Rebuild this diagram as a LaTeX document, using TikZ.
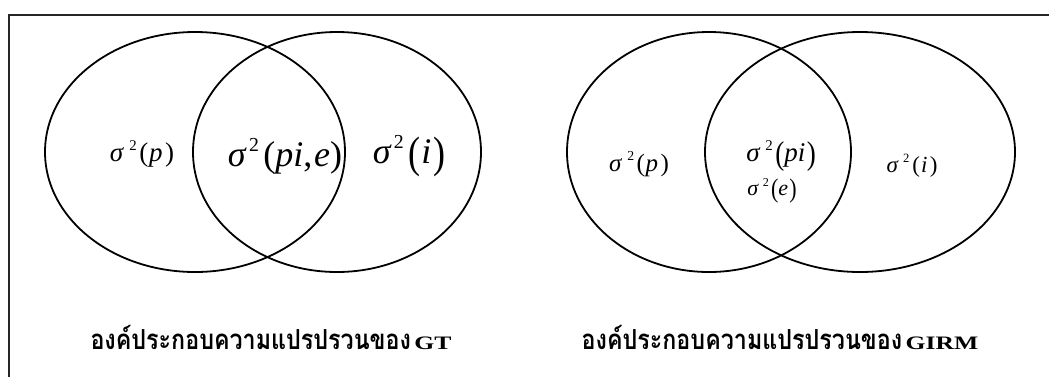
\documentclass[tikz,border=0pt]{standalone}
\usepackage{fontspec}
\usetikzlibrary{shapes.geometric}
\setmainfont{Liberation Serif}
\newfontfamily\thaifont[Script=Thai]{Loma}
% sigma squared, with a gap #1 before the exponent and #2 after it
\newcommand{\sgm}[2]{\textit{σ}\kern#1\raisebox{0.42em}{\scalebox{0.55}{2}}\kern#2}
% tall parentheses
\newcommand{\tlp}{\raisebox{-0.09em}{\scalebox{1}[1.22]{(}}}
\newcommand{\trp}{\raisebox{-0.09em}{\scalebox{1}[1.22]{)}}}
\newcommand{\latcap}[1]{\scalebox{1.35}[1]{\fontsize{19}{22}\selectfont\bfseries #1}}
\newcommand{\thcap}{\scalebox{0.97}[1.15]{\thaifont\fontsize{24}{28}\selectfont\bfseries องค์ประกอบความแปรปรวนของ}}
\tikzset{
  venn/.style={draw, ellipse, line width=1.8pt, inner sep=0pt},
  lab/.style={inner sep=0pt, anchor=center},
  captext/.style={inner sep=0pt, anchor=base}
}
\begin{document}
\begin{tikzpicture}[x=1pt,y=-1pt]
\useasboundingbox (0,0) rectangle (1049,376);
% frame
\draw[line width=2pt, black!85] (9,380) -- (9,15) -- (1052,15);
% GT ellipses
\node[venn, minimum width=300pt, minimum height=240pt] (gp) at (195,152) {};
\node[venn, minimum width=288pt, minimum height=240pt] (gi) at (337,152) {};
% GIRM ellipses
\node[venn, minimum width=284pt, minimum height=240pt] (rp) at (709,152) {};
\node[venn, minimum width=310pt, minimum height=240pt] (ri) at (860,152) {};
% GT labels
\node[lab, font=\fontsize{27}{32}\selectfont] (t1) at (142,154) {\sgm{0.2em}{0.1em}(\kern0.02em\textit{p}\kern0.1em)};
\node[lab, font=\fontsize{36}{42}\selectfont] (t2) at (285,156) {\sgm{0.06em}{0.12em}(\textit{pi},\kern0.05em\textit{e})};
\node[lab, font=\fontsize{36}{42}\selectfont] (t3) at (409,156) {\sgm{0.06em}{0.12em}\tlp\kern0.03em\textit{i}\kern0.05em\trp};
% GIRM labels
\node[lab, font=\fontsize{25}{30}\selectfont] (r1) at (639,164) {\sgm{0.2em}{0.1em}(\kern0.02em\textit{p}\kern0.1em)};
\node[lab, font=\fontsize{27}{32}\selectfont] (r2) at (781,156) {\sgm{0.18em}{0.1em}\tlp\textit{pi}\kern0.05em\trp};
\node[lab, font=\fontsize{22}{26}\selectfont] (r3) at (772,191) {\sgm{0.18em}{0.1em}\tlp\textit{e}\kern0.05em\trp};
\node[lab, font=\fontsize{23}{27}\selectfont] (r4) at (912,166) {\sgm{0.2em}{0.12em}(\kern0.05em\textit{i}\kern0.1em)};
% captions
\node[captext] (c1) at (271,349) {\thcap\kern0.35em\latcap{GT}};
\node[captext] (c2) at (780,349) {\thcap\kern0.35em\latcap{GIRM}};
\end{tikzpicture}
\end{document}
